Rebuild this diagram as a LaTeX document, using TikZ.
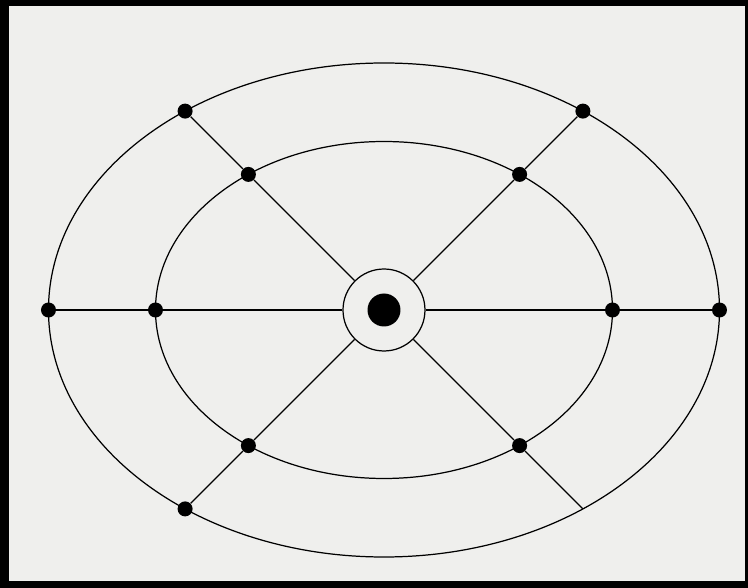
\documentclass[tikz,border=0pt]{standalone}
\usepackage{tikz}
\usetikzlibrary{calc}
\definecolor{papel}{RGB}{239,239,237}
\tikzset{
  punto/.style={
    circle,
    fill=black,
    inner sep=0pt,
    minimum size=.3cm
  },
  nucleo/.style={
    circle,
    fill=black,
    inner sep=0pt,
    minimum size=.66cm
  },
  anillo/.style={
    circle,
    draw=black,
    line width=.7pt,
    inner sep=0pt,
    minimum size=1.64cm
  },
  linea/.style={
    line width=.7pt,
    black
  }
}
\begin{document}
\begin{tikzpicture}[x=.02cm,y=.02cm]
\useasboundingbox (-384,-278) rectangle (364,310);
\fill[black] (-384,-278) rectangle (364,310);
\fill[papel] (-375,-271) rectangle (361,304);
% anillos
\draw[linea] (0,0) ellipse [x radius=335.5,y radius=247];
\draw[linea] (0,0) ellipse [x radius=228.5,y radius=168.5];
% centro
\node[anillo] (hub) at (0,0) {};
\node[nucleo] (c) at (0,0) {};
% nodos exteriores
\node[punto] (oi) at (-335.5,0) {};
\node[punto] (od) at (335.5,0) {};
\node[punto] (osi) at (-198.9,198.9) {};
\node[punto] (osd) at (198.9,198.9) {};
\node[punto] (oii) at (-198.9,-198.9) {};
\coordinate (oid) at (198.9,-198.9);
% nodos interiores
\node[punto] (ii) at (-228.5,0) {};
\node[punto] (id) at (228.5,0) {};
\node[punto] (isi) at (-135.6,135.6) {};
\node[punto] (isd) at (135.6,135.6) {};
\node[punto] (iii) at (-135.6,-135.6) {};
\node[punto] (iid) at (135.6,-135.6) {};
% radios
\draw[linea] (hub) -- (ii) -- (oi);
\draw[linea] (hub) -- (id) -- (od);
\draw[linea] (hub) -- (isi) -- (osi);
\draw[linea] (hub) -- (isd) -- (osd);
\draw[linea] (hub) -- (iii) -- (oii);
\draw[linea] (hub) -- (iid) -- (oid);
\end{tikzpicture}
\end{document}
